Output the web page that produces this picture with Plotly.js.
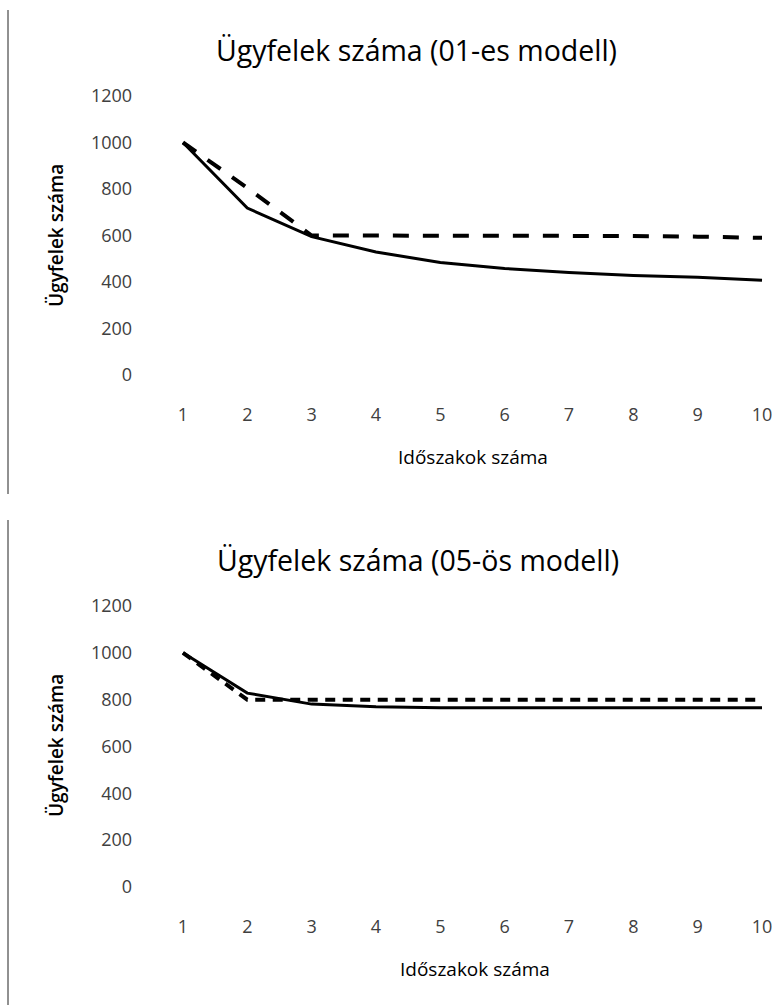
<!DOCTYPE html>
<html><head><meta charset="utf-8">
<script src="https://cdn.plot.ly/plotly-3.0.1.min.js"></script>
<style>html,body{margin:0;padding:0;background:#fff;}#chart{width:782px;height:1005px;}</style>
</head><body><div id="chart"></div>
<script>
// Data
const periods = [1,2,3,4,5,6,7,8,9,10];
const periodLabels = ['1','2','3','4','5','6','7','8','9','10'];
const model01Solid = [1000,718,595,529,484,458,441,428,420,407];
const model01Dashed = [1000,805,600,600,600,600,600,598,595,590];
const model05Solid = [1000,828,781,770,766,765,765,765,765,765];
const model05Dashed = [1000,800,800,800,800,800,800,800,800,800];
const yTicks = [0,200,400,600,800,1000,1200];
const titles = ['Ügyfelek száma (01-es modell)','Ügyfelek száma (05-ös modell)'];
const yTitle = 'Ügyfelek száma';
const xTitle = 'Időszakok száma';

const W = 782, H = 1005;
const px = v => v / W, py = v => 1 - v / H;
const FONT = '"Open Sans", "Noto Sans", sans-serif';
const tickFont = {family: FONT, size: 18, color: '#404040'};

const traces = [
  {x: periods, y: model01Solid, xaxis: 'x', yaxis: 'y', mode: 'lines', line: {color: '#000', width: 3}},
  {x: periods, y: model01Dashed, xaxis: 'x', yaxis: 'y', mode: 'lines', line: {color: '#000', width: 4, dash: '16px,14px'}},
  {x: periods, y: model05Solid, xaxis: 'x2', yaxis: 'y2', mode: 'lines', line: {color: '#000', width: 3}},
  {x: periods, y: model05Dashed, xaxis: 'x2', yaxis: 'y2', mode: 'lines', line: {color: '#000', width: 4, dash: '10px,7.5px'}}
];

// x: tick 1 at 183px, tick 10 at 762px
const xCommon = {range: [0.8, 10.3], showgrid: false, zeroline: false, showline: false, ticks: '',
  tickvals: periods, ticktext: periodLabels, tickfont: tickFont, ticklabelstandoff: 27,
  domain: [px(170.1), px(781.3)]};
const yCommon = {range: [0, 1200], showgrid: false, zeroline: false, showline: false, ticks: '',
  tickvals: yTicks, tickfont: tickFont, ticklabelstandoff: 37};

const layout = {
  width: W, height: H, margin: {l: 0, r: 0, t: 0, b: 0},
  paper_bgcolor: '#fff', plot_bgcolor: 'rgba(0,0,0,0)', showlegend: false,
  xaxis: Object.assign({}, xCommon, {anchor: 'y'}),
  yaxis: Object.assign({}, yCommon, {anchor: 'x', domain: [py(375), py(96)]}),
  xaxis2: Object.assign({}, xCommon, {anchor: 'y2'}),
  yaxis2: Object.assign({}, yCommon, {anchor: 'x2', domain: [py(887), py(606)]}),
  annotations: [
    {text: titles[0], x: px(416), y: py(50), xref: 'paper', yref: 'paper', showarrow: false, xanchor: 'center', yanchor: 'middle', font: {family: FONT, size: 28.5, color: '#000'}},
    {text: titles[1], x: px(418), y: py(560), xref: 'paper', yref: 'paper', showarrow: false, xanchor: 'center', yanchor: 'middle', font: {family: FONT, size: 28.5, color: '#000'}},
    {text: yTitle, x: px(56), y: py(236), xref: 'paper', yref: 'paper', showarrow: false, textangle: -90, xanchor: 'center', yanchor: 'middle', font: {family: FONT, size: 19, weight: 600, color: '#000'}},
    {text: yTitle, x: px(56), y: py(746), xref: 'paper', yref: 'paper', showarrow: false, textangle: -90, xanchor: 'center', yanchor: 'middle', font: {family: FONT, size: 19, weight: 600, color: '#000'}},
    {text: xTitle, x: px(473), y: py(457), xref: 'paper', yref: 'paper', showarrow: false, xanchor: 'center', yanchor: 'middle', font: {family: FONT, size: 19, color: '#000'}},
    {text: xTitle, x: px(475), y: py(969), xref: 'paper', yref: 'paper', showarrow: false, xanchor: 'center', yanchor: 'middle', font: {family: FONT, size: 19, color: '#000'}}
  ],
  shapes: [
    {type: 'line', xref: 'paper', yref: 'paper', x0: px(8), x1: px(8), y0: py(10), y1: py(494), line: {color: '#222', width: 1}},
    {type: 'line', xref: 'paper', yref: 'paper', x0: px(8), x1: px(8), y0: py(520), y1: py(1005), line: {color: '#222', width: 1}}
  ]
};
Plotly.newPlot('chart', traces, layout, {displayModeBar: false, staticPlot: true});
</script></body></html>
